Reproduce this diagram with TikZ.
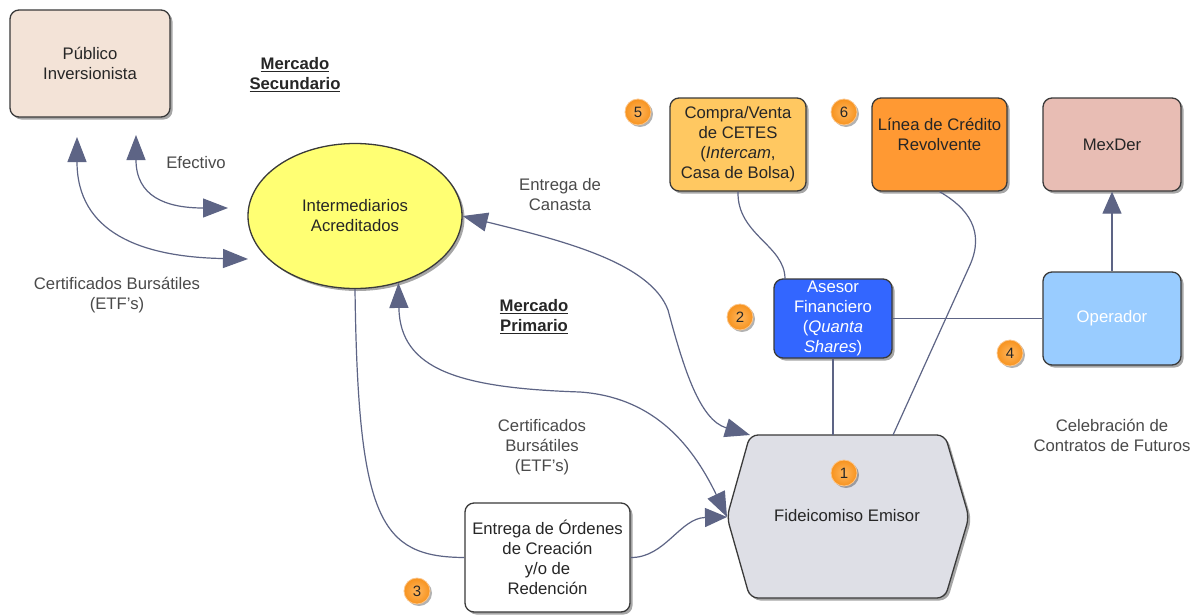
\documentclass[tikz,border=0pt]{standalone}
\usepackage{fontspec}
\setmainfont{Liberation Sans}
\usetikzlibrary{arrows.meta,shapes.geometric,shadows,calc}
\definecolor{lnc}{HTML}{5D6485}
\definecolor{boxline}{HTML}{3A3A3A}
\definecolor{boxtext}{HTML}{262626}
\definecolor{labtext}{HTML}{4A4A4A}
\definecolor{pubfill}{HTML}{F3E3D7}
\definecolor{intfill}{HTML}{FFFF73}
\definecolor{compfill}{HTML}{FFC861}
\definecolor{linfill}{HTML}{FF9933}
\definecolor{mexfill}{HTML}{E8BDB4}
\definecolor{opfill}{HTML}{99CCFF}
\definecolor{asefill}{HTML}{3366FF}
\definecolor{hexfill}{HTML}{DEDFE6}
\definecolor{numin}{HTML}{FFB65E}
\definecolor{numout}{HTML}{F7931E}
\definecolor{numline}{HTML}{FBC58A}
\begin{document}
\begin{tikzpicture}[x=1pt,y=-1pt,
  font=\fontsize{16.7}{20}\selectfont,
  shd/.style={drop shadow={shadow xshift=2.5pt,shadow yshift=-2.5pt,opacity=0.35,fill=black}},
  rbox/.style={draw=boxline,line width=1.3pt,rounded corners=9pt,align=center,inner sep=1pt,text=boxtext,shd},
  lab/.style={align=center,text=labtext},
  ttl/.style={align=center,text=boxtext,font=\fontsize{16.7}{20}\selectfont\bfseries},
  numc/.style={circle,minimum size=26pt,inner sep=0pt,draw=numline,line width=0.8pt,inner color=numin,outer color=numout,font=\fontsize{15}{15}\selectfont,text=boxtext,drop shadow={shadow xshift=2pt,shadow yshift=-2pt,opacity=0.3,fill=black}},
  cn/.style={draw=lnc,line width=1.2pt},
  arrbb/.style={arrows={Triangle[length=25pt,width=19pt]-Triangle[length=25pt,width=19pt]}},
  arre/.style={arrows={-Triangle[length=22pt,width=19pt]}}
]
\useasboundingbox (0,0) rectangle (1192,614);
\fill[white] (0,0) rectangle (1192,614);

% nodes
\node[rbox,fill=pubfill,minimum width=160pt,minimum height=107pt] (pub) at (90,63.5) {Público\\Inversionista};
\node[ellipse,draw=boxline,line width=1.3pt,fill=intfill,minimum width=214pt,minimum height=145pt,align=center,text=boxtext,shd] (int) at (355,216) {Intermediarios\\Acreditados};
\node[rbox,fill=compfill,minimum width=136pt,minimum height=93pt] (comp) at (738,144.5) {Compra/Venta\\de CETES\\(\textit{Intercam},\\Casa de Bolsa)};
\node[rbox,fill=linfill,minimum width=135pt,minimum height=93pt] (lin) at (939.5,144.5) {Línea de Crédito\\Revolvente\\\mbox{}};
\node[rbox,fill=mexfill,minimum width=138pt,minimum height=93pt] (mex) at (1112,144.5) {MexDer};
\node[rbox,fill=opfill,minimum width=138pt,minimum height=93pt,text=white] (op) at (1112,318.5) {Operador};
\node[rbox,fill=asefill,minimum width=118pt,minimum height=79pt,text=white,inner sep=0pt] (ase) at (833,318.5) {Asesor\\Financiero\\(\textit{Quanta}\\\textit{Shares})};
\node[rbox,fill=white,minimum width=165pt,minimum height=109pt] (ent) at (547.5,557.5) {Entrega de Órdenes\\de Creación\\y/o de\\Redención};

% hexagon
\coordinate (hL) at (727,517);
\coordinate (hTL) at (750,435);
\coordinate (hTR) at (945,435);
\coordinate (hR) at (969,517);
\coordinate (hBR) at (945,598);
\coordinate (hBL) at (750,598);
\draw[fill=hexfill,draw=boxline,line width=1.3pt,rounded corners=8pt,shd] (hL) -- (hTL) -- (hTR) -- (hR) -- (hBR) -- (hBL) -- cycle;
\node[text=boxtext] (fid) at (847,516) {Fideicomiso Emisor};
\coordinate (hT1) at (833,435);
\coordinate (hT2) at (893,435);
\coordinate (aseT) at (785,279);

% numbered circles
\node[numc] (n1) at (844,473) {1};
\node[numc] (n2) at (740,317) {2};
\node[numc] (n3) at (417,591) {3};
\node[numc] (n4) at (1010,353) {4};
\node[numc] (n5) at (638,112) {5};
\node[numc] (n6) at (844,112) {6};

% labels
\node[ttl] (msec) at (295,75) {\underline{Mercado}\\\underline{Secundario}};
\node[ttl] (mpri) at (534,317) {\underline{Mercado}\\\underline{Primario}};
\node[lab] (efe) at (196,163) {Efectivo};
\node[lab] (cb1) at (117,295) {Certificados Bursátiles\\(ETF's)};
\node[lab] (canasta) at (560,195) {Entrega de\\Canasta};
\node[lab] (cb2) at (542,447) {Certificados\\Bursátiles\\(ETF's)};
\node[lab] (cel) at (1112,435) {Celebración de\\Contratos de Futuros};

% free ends
\coordinate (a1p) at (77,137);
\coordinate (a1i) at (248,259);
\coordinate (a2p) at (136,135);
\coordinate (a2i) at (228,208);

% connectors
\draw[cn,arrbb] (a1p) .. controls (77,232) and (140,257) .. (a1i);
\draw[cn,arrbb] (a2p) .. controls (136,196) and (165,208) .. (a2i);
\draw[cn,arrbb] (int.east) .. controls (560,240) and (650,262) .. (668,310) .. controls (684,370) and (700,420) .. (hTL);
\draw[cn,arrbb] (int.-57) .. controls (400,370) and (460,388) .. (580,392) .. controls (650,397) and (690,440) .. (hL);
\draw[cn] (int.south) .. controls (358,520) and (380,557) .. (ent.west);
\draw[cn,arre] (ent.east) .. controls (665,558) and (680,518) .. (hL);
\draw[cn] (comp.south) .. controls (737,235) and (785,245) .. (aseT);
\draw[cn] (lin.south) .. controls (968,208) and (985,231) .. (970,265) -- (hT2);
\draw[cn] (ase.south) -- (hT1);
\draw[cn] (ase.east) -- (op.west);
\draw[cn,arre] (op.north) -- (mex.south);
\end{tikzpicture}
\end{document}
